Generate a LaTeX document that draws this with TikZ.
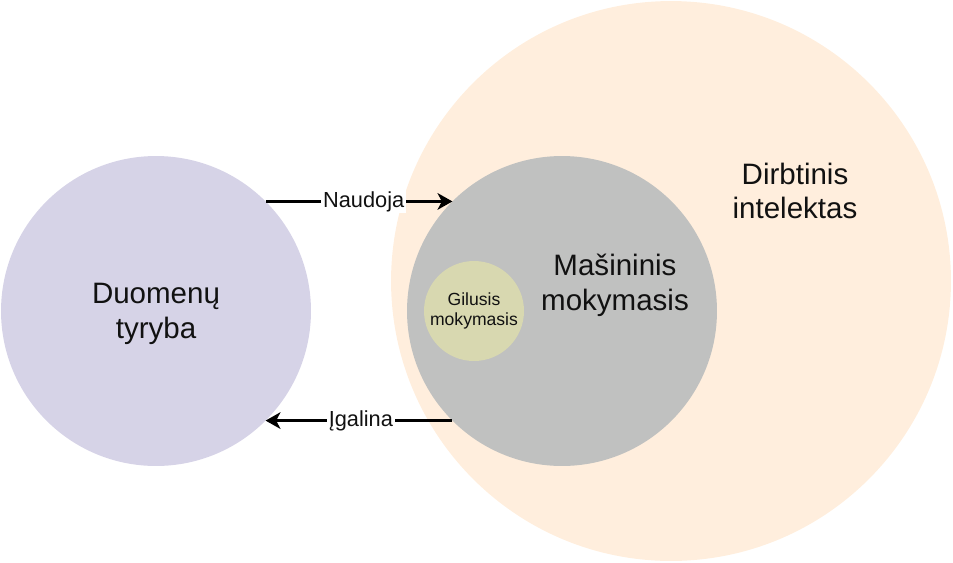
\documentclass[tikz,border=0pt]{standalone}
\usepackage{fontspec}
\setmainfont{Liberation Sans}
\usetikzlibrary{arrows.meta}
\definecolor{figline}{RGB}{0,0,0}
\definecolor{figtext}{RGB}{17,17,17}
\definecolor{fillds}{RGB}{214,211,231}
\definecolor{fillai}{RGB}{255,238,221}
\definecolor{fillml}{RGB}{192,193,192}
\definecolor{filldl}{RGB}{216,216,176}
\tikzset{
  area/.style ={circle, inner sep=0pt, outer sep=0pt, draw=none, text=figtext, align=center},
  labl/.style ={font=\fontsize{16.8}{19.8}\selectfont, text=figtext, align=center, inner sep=1pt},
  labm/.style ={font=\fontsize{12.4}{14}\selectfont, text=figtext, fill=white, inner sep=1pt},
  labs/.style ={font=\fontsize{10}{11.3}\selectfont, align=center},
  ptr/.style ={draw=figline, line width=1.3pt, -{Stealth[length=8.5pt,width=9.5pt,inset=2.5pt]}},
}
\begin{document}
\begin{tikzpicture}[x=0.02cm,y=-0.02cm]
  \useasboundingbox (0,0) rectangle (953,562);
  \node[area, fill=fillai, minimum size=11.2cm] (ai) at (671,281) {};
  \node[area, fill=fillml, minimum size=6.2cm] (ml) at (562,311) {};
  \node[area, fill=filldl, minimum size=2cm, labs] (dl) at (474,311) {Gilusis\\mokymasis};
  \node[area, fill=fillds, minimum size=6.2cm, labl] (ds) at (156,311) {};
  \node[labl] (dst) at (156,314) {Duomenų\\tyryba};
  \node[labl] (ait) at (795,191) {Dirbtinis\\intelektas};
  \node[labl] (mlt) at (615,285) {Mašininis\\mokymasis};
  \draw[ptr] (ds.45) -- node[labm, pos=0.525] {Naudoja} (ml.135);
  \draw[ptr] (ml.225) -- node[labm, pos=0.49] {Įgalina} (ds.-45);
\end{tikzpicture}
\end{document}
